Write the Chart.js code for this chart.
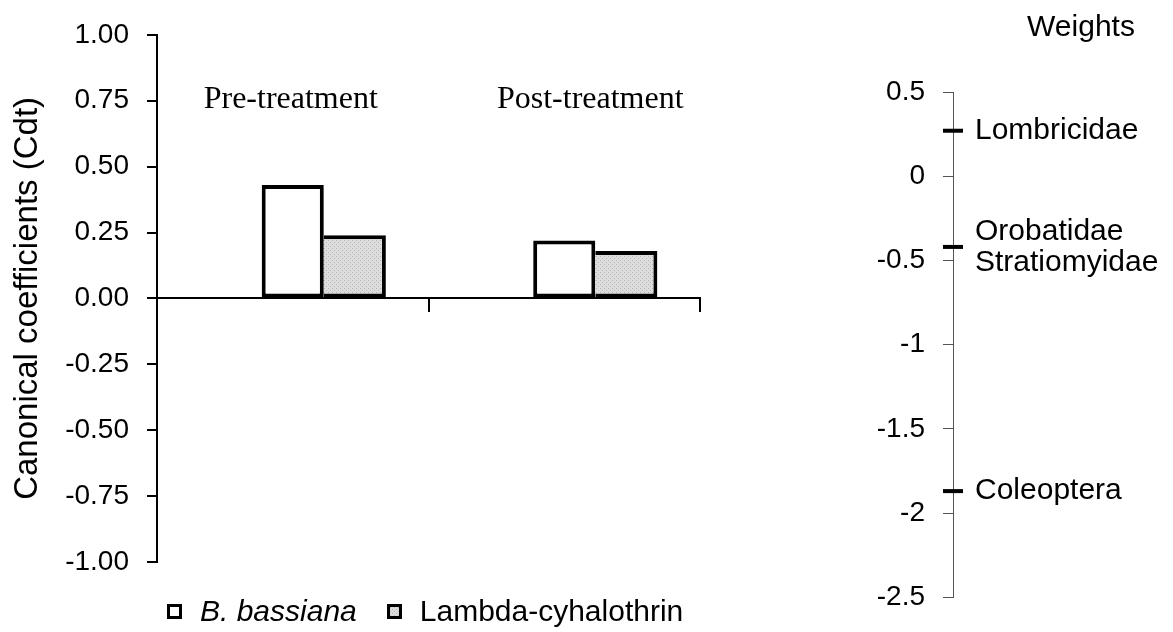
<!DOCTYPE html>
<html lang="en">

<head>
    <meta charset="UTF-8">
    <title>Canonical coefficients</title>
    <script src="https://cdn.jsdelivr.net/npm/chart.js"></script>
    <style>
        html, body {
            margin: 0;
            padding: 0;
            background: #fff;
        }

        body {
            width: 1173px;
            height: 632px;
            position: relative;
            overflow: hidden;
            font-family: 'Liberation Sans', Arial, sans-serif;
        }

        #barWrap {
            position: absolute;
            left: 0;
            top: 0;
            width: 720px;
            height: 632px;
        }

        #weightWrap {
            position: absolute;
            left: 860px;
            top: 0;
            width: 313px;
            height: 632px;
        }

        #legend {
            position: absolute;
            left: 167px;
            top: 594px;
            display: flex;
            align-items: center;
            font-size: 30px;
            color: #000;
        }

        .item {
            display: flex;
            align-items: center;
            margin-right: 30px;
        }

        .box {
            width: 9px;
            height: 9px;
            border: 3px solid #000;
            margin-right: 18px;
        }
    </style>
</head>

<body>
    <div id="barWrap"><canvas id="barChart"></canvas></div>
    <div id="weightWrap"><canvas id="weightChart"></canvas></div>
    <div id="legend"></div>

    <script>
        // data
        const periods = ['Pre-treatment', 'Post-treatment']
        const seriesNames = ['B. bassiana', 'Lambda-cyhalothrin']
        const bBassiana = [0.43, 0.22]
        const lambdaCy = [0.24, 0.18]
        const spacer = [null, null]   // empty first series, Excel left a gap for it

        const taxa = [['Lombricidae'], ['Orobatidae', 'Stratiomyidae'], ['Coleoptera']]
        const weights = [0.27, -0.42, -1.87]

        const sans = "'Liberation Sans', Arial, sans-serif"
        const serif = "'Liberation Serif', 'Times New Roman', serif"

        // dotted grey fill like the original
        function dotCanvas() {
            const c = document.createElement('canvas')
            c.width = 4
            c.height = 4
            const g = c.getContext('2d')
            g.fillStyle = '#dddddd'
            g.fillRect(0, 0, 4, 4)
            g.fillStyle = '#b3b3b3'
            g.fillRect(0, 0, 1, 1)
            g.fillRect(2, 2, 1, 1)
            return c
        }
        const dots = dotCanvas()

        // category names written inside the plot
        const periodLabels = {
            id: 'periodLabels',
            afterDatasetsDraw(chart, args, opts) {
                const { ctx, scales } = chart
                ctx.save()
                ctx.font = '32px ' + serif
                ctx.fillStyle = '#000'
                ctx.textAlign = 'center'
                ctx.textBaseline = 'middle'
                chart.data.labels.forEach((lab, i) => {
                    const x = scales.x.getPixelForValue(i) + opts.shift[i]
                    ctx.fillText(lab, x, scales.y.getPixelForValue(opts.atValue))
                })
                ctx.restore()
            }
        }

        var ctx = document.getElementById('barChart').getContext('2d')
        var grey = ctx.createPattern(dots, 'repeat')

        var barChart = new Chart(ctx, {
            type: 'bar',
            data: {
                labels: periods,
                datasets: [{
                    label: '',
                    data: spacer,
                    backgroundColor: 'transparent',
                    borderWidth: 0
                }, {
                    label: seriesNames[0],
                    data: bBassiana,
                    backgroundColor: '#fff',
                    borderColor: '#000',
                    borderWidth: 4,
                    borderSkipped: false
                }, {
                    label: seriesNames[1],
                    data: lambdaCy,
                    backgroundColor: grey,
                    borderColor: '#000',
                    borderWidth: { top: 4, right: 4, bottom: 4, left: 0 },
                    borderSkipped: false
                }]
            },
            options: {
                responsive: true,
                maintainAspectRatio: false,
                animation: false,
                layout: { padding: { top: 32, bottom: 70, left: 0, right: 20 } },
                datasets: { bar: { categoryPercentage: 0.686, barPercentage: 1 } },
                plugins: {
                    legend: { display: false },
                    tooltip: { enabled: false },
                    periodLabels: { atValue: 0.755, shift: [-2, 26] }
                },
                scales: {
                    x: {
                        position: { y: 0 },
                        offset: true,
                        grid: { offset: true, drawOnChartArea: false, tickLength: 13, color: '#000', lineWidth: 2 },
                        border: { color: '#000', width: 2 },
                        ticks: { display: false },
                        afterFit: s => { s.height = 0 }
                    },
                    y: {
                        min: -1,
                        max: 1,
                        ticks: {
                            stepSize: 0.25,
                            color: '#000',
                            padding: 18,
                            font: { size: 28, family: sans },
                            callback: v => v.toFixed(2)
                        },
                        grid: { drawOnChartArea: false, tickLength: 10, color: '#000', lineWidth: 2 },
                        border: { color: '#000', width: 2 },
                        title: {
                            display: true,
                            text: 'Canonical coefficients (Cdt)',
                            color: '#000',
                            font: { size: 33, family: sans },
                            padding: { top: 8, bottom: 0 }
                        },
                        afterFit: s => { s.width = 157 }
                    }
                }
            },
            plugins: [periodLabels]
        })

        // html legend so the species name can be in italics
        function buildLegend() {
            const box = document.getElementById('legend')
            box.innerHTML = ''
            barChart.data.datasets.slice(1).forEach((ds, i) => {
                const item = document.createElement('div')
                item.className = 'item'
                const sw = document.createElement('span')
                sw.className = 'box'
                sw.style.background = i == 0 ? '#fff' : 'url(' + dots.toDataURL() + ')'
                const txt = document.createElement('span')
                txt.textContent = ds.label
                if (i == 0) txt.style.fontStyle = 'italic'
                item.appendChild(sw)
                item.appendChild(txt)
                box.appendChild(item)
            })
        }
        buildLegend()

        // names next to the weight marks + axis title
        const taxaLabels = {
            id: 'taxaLabels',
            afterDatasetsDraw(chart) {
                const { ctx, chartArea } = chart
                const pts = chart.getDatasetMeta(0).data
                ctx.save()
                ctx.font = '30px ' + sans
                ctx.fillStyle = '#000'
                ctx.textBaseline = 'middle'
                ctx.textAlign = 'left'
                pts.forEach((p, i) => {
                    const lines = taxa[i]
                    const y0 = p.y - (lines.length - 1) * 31 / 2
                    lines.forEach((t, j) => ctx.fillText(t, p.x + 22, y0 + j * 31))
                })
                ctx.textAlign = 'center'
                ctx.fillText('Weights', chartArea.left + 128, 28)
                ctx.restore()
            }
        }

        var ctx2 = document.getElementById('weightChart').getContext('2d')
        var weightChart = new Chart(ctx2, {
            type: 'scatter',
            data: {
                datasets: [{
                    data: weights.map(w => ({ x: 0, y: w })),
                    pointStyle: 'line',
                    pointRadius: 10,
                    pointHoverRadius: 10,
                    pointBorderColor: '#000',
                    pointBorderWidth: 4,
                    clip: false
                }]
            },
            options: {
                responsive: true,
                maintainAspectRatio: false,
                animation: false,
                layout: { padding: { top: 92, bottom: 22, left: 0, right: 10 } },
                plugins: {
                    legend: { display: false },
                    tooltip: { enabled: false }
                },
                scales: {
                    x: { type: 'linear', min: 0, max: 1, display: false },
                    y: {
                        min: -2.5,
                        max: 0.5,
                        ticks: {
                            stepSize: 0.5,
                            color: '#000',
                            padding: 18,
                            font: { size: 28, family: sans },
                            callback: v => String(v)
                        },
                        grid: { drawOnChartArea: false, tickLength: 10, color: '#555', lineWidth: 1 },
                        border: { color: '#555', width: 1 },
                        afterFit: s => { s.width = 93 }
                    }
                }
            },
            plugins: [taxaLabels]
        })
    </script>
</body>

</html>
